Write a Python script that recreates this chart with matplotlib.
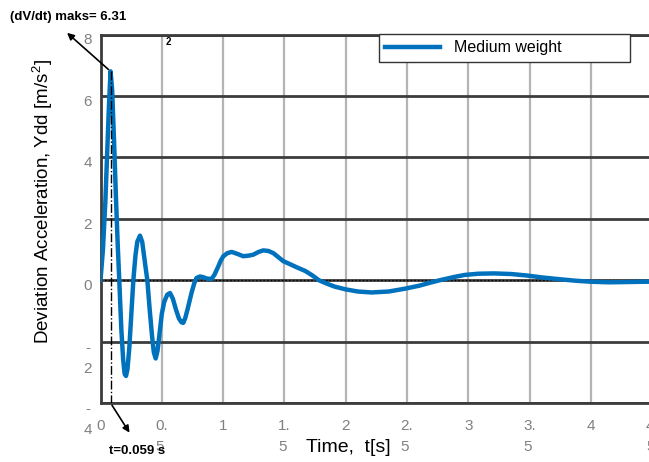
import numpy as np
import matplotlib.pyplot as plt
from matplotlib.transforms import ScaledTranslation

plt.rcParams['font.family'] = ['Liberation Sans', 'DejaVu Sans']
plt.rcParams['mathtext.fontset'] = 'custom'
plt.rcParams['mathtext.rm'] = 'Liberation Sans'

# response
t = [0, 0.02, 0.04, 0.055, 0.068, 0.082, 0.095, 0.11, 0.125, 0.14, 0.153,
     0.17, 0.185, 0.197, 0.208, 0.22, 0.235, 0.25, 0.268, 0.285, 0.30, 0.322,
     0.34, 0.355, 0.37, 0.382, 0.40, 0.42, 0.435, 0.45, 0.465, 0.48, 0.50,
     0.52, 0.545, 0.567, 0.59, 0.615, 0.64, 0.66, 0.675, 0.69, 0.71, 0.742,
     0.765, 0.783, 0.81, 0.836, 0.87, 0.906, 0.93, 0.961, 0.98, 1.002, 1.035,
     1.07, 1.12, 1.165, 1.21, 1.246, 1.29, 1.328, 1.37, 1.41, 1.45, 1.491,
     1.546, 1.60, 1.67, 1.73, 1.78, 1.85, 1.91, 2.0, 2.1, 2.21, 2.35, 2.48,
     2.6, 2.7, 2.78, 2.88, 2.97, 3.08, 3.21, 3.35, 3.48, 3.6, 3.72, 3.88,
     4.0, 4.15, 4.3, 4.45, 4.6]
ydd = [0, 1.0, 2.6, 4.2, 5.6, 6.8, 6.2, 4.6, 2.8, 1.2, 0,
       -1.6, -2.6, -3.05, -3.12, -2.9, -2.2, -1.2, 0, 0.8, 1.25, 1.45,
       1.25, 0.8, 0.35, 0, -0.9, -1.8, -2.35, -2.55, -2.3, -1.8, -1.1,
       -0.7, -0.47, -0.42, -0.6, -0.95, -1.25, -1.37, -1.39, -1.25, -0.95, -0.42,
       -0.1, 0.07, 0.12, 0.1, 0.05, 0.04, 0.18, 0.45, 0.63, 0.78, 0.88,
       0.92, 0.85, 0.78, 0.8, 0.83, 0.92, 0.97, 0.95, 0.88, 0.75, 0.62,
       0.52, 0.42, 0.3, 0.15, 0.0, -0.12, -0.21, -0.3, -0.37, -0.4, -0.37, -0.28,
       -0.18, -0.07, 0.01, 0.1, 0.17, 0.21, 0.22, 0.2, 0.15, 0.09, 0.04, -0.02,
       -0.05, -0.07, -0.06, -0.05, -0.05]

peak_t = 0.082
peak_v = 6.8

xticks = [0, 0.5, 1, 1.5, 2, 2.5, 3, 3.5, 4, 4.5]
xlabels = ['0', '0.\n5', '1', '1.\n5', '2', '2.\n5', '3', '3.\n5', '4', '4.\n5']
yticks = [-4, -2, 0, 2, 4, 6, 8]
ylabels = ['-\n4', '-\n2', '0', '2', '4', '6', '8']

W, H = 649, 462
fig = plt.figure(figsize=(W / 100, H / 100), dpi=100)
ax = fig.add_axes([100.5 / W, (H - 403) / H, 613 / W, 368.5 / H])

ax.plot(t, ydd, color='#0072BD', lw=3.2, label='Medium weight', zorder=3)
ax.plot([peak_t, peak_t], [peak_v, -4], color='k', lw=1, ls='-.', zorder=4)
ax.axhline(0, color='k', lw=1, ls=':', zorder=2.6)

ax.set_xlim(0, 5)
ax.set_ylim(-4, 8)
ax.set_xticks(xticks, xlabels)
ax.set_yticks(yticks, ylabels)
ax.tick_params(length=0, labelsize=11, labelcolor='#808080')
ax.tick_params(axis='x', pad=11.5)
ax.tick_params(axis='y', pad=6)

ax.xaxis.grid(True, color='#b4b4b4', lw=1.6)
ax.yaxis.grid(True, color='#3c3c3c', lw=2)
ax.set_axisbelow(True)
for s in ax.spines.values():
    s.set_color('#3c3c3c')
    s.set_linewidth(2)

up = ScaledTranslation(0, 1 / 100, fig.dpi_scale_trans)
for lab in ax.get_yticklabels():
    lab.set_va('top')
    lab.set_multialignment('center')
    lab.set_linespacing(1.65)
    lab.set_transform(lab.get_transform() + up)
for lab in ax.get_xticklabels():
    lab.set_multialignment('left')
    lab.set_linespacing(1.6)

fig.text(43 / W, 1 - 202 / H, 'Deviation Acceleration, Ydd [m/s$^{\\mathregular{2}}$]',
         rotation=90, ha='center', va='center', fontsize=13.5)
fig.text(348 / W, 1 - 448 / H, 'Time,  t[s]', ha='center', va='center', fontsize=14)

leg = ax.legend(loc='upper left', bbox_to_anchor=(379 / W, 1 - 34 / H, 251 / W, 0),
                bbox_transform=fig.transFigure, mode='expand', borderaxespad=0,
                fontsize=11.5, handlelength=3.4, handletextpad=0.9,
                fancybox=False, framealpha=1, edgecolor='#333333')
leg.get_frame().set_linewidth(1)

# annotations
arrow = dict(arrowstyle='-|>', color='k', lw=1.2, mutation_scale=10)
ax.annotate('', xy=(65 / W, 1 - 31 / H), xycoords='figure fraction',
            xytext=(peak_t, peak_v), textcoords='data', arrowprops=arrow)
ax.annotate('', xy=(131 / W, 1 - 435 / H), xycoords='figure fraction',
            xytext=(peak_t, -4), textcoords='data', arrowprops=arrow,
            annotation_clip=False)
fig.text(10 / W, 1 - 17 / H, '(dV/dt) maks= 6.31', fontsize=9.5,
         fontweight='bold', va='center')
fig.text(109 / W, 1 - 451 / H, 't=0.059 s', fontsize=9.5,
         fontweight='bold', va='center')
fig.text(166 / W, 1 - 42 / H, '2', fontsize=7, fontweight='bold', va='center')

fig.savefig('out.png', dpi=100)
